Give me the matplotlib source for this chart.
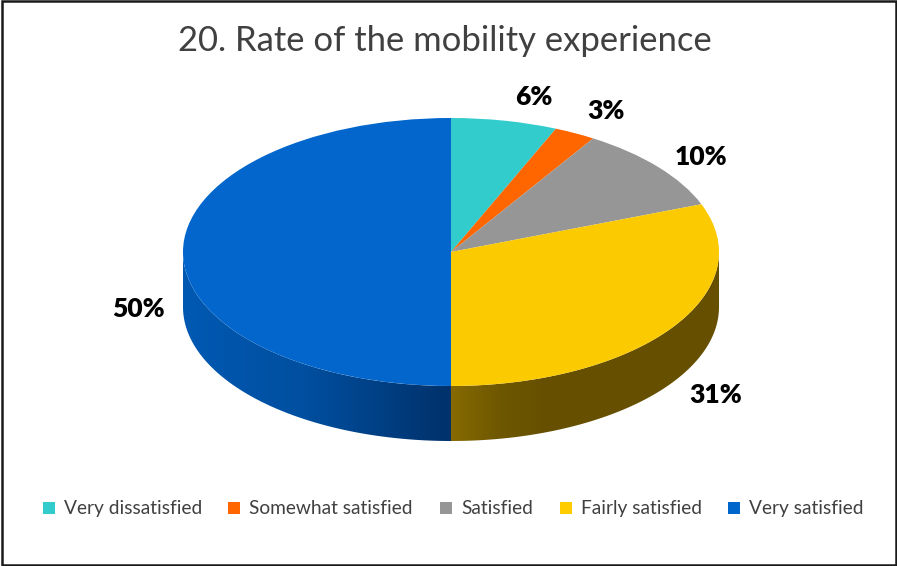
import numpy as np
import matplotlib
matplotlib.use("Agg")
from matplotlib import pyplot as plt
from matplotlib.colors import LinearSegmentedColormap
from matplotlib.patches import Polygon, Rectangle

W, H = 897, 566

categories = ["Very dissatisfied", "Somewhat satisfied", "Satisfied", "Fairly satisfied", "Very satisfied"]
values = [6.4, 2.5, 10.3, 30.8, 50.0]
value_labels = ["6%", "3%", "10%", "31%", "50%"]
colors = ["#33CCCC", "#FF6600", "#969696", "#FBCA00", "#0266CC"]
legend_colors = ["#33CCCC", "#FF6600", "#969696", "#FFCC00", "#0066CC"]
label_px = [(534, 97), (606, 111), (701, 157), (716, 395), (138, 309)]
legend_px = [43, 228, 440, 560, 728]

# pie centre and radii in pixels, the pie is flattened by the axes limits
cx, cy, rx, ry = 451, 252, 268, 134
depth = 55 / ry

plt.rcParams['font.family'] = ['Lato', 'DejaVu Sans']

fig = plt.figure(figsize=(W / 100, H / 100), dpi=100, facecolor="white")
ax = fig.add_axes([0, 0, 1, 1])

wedges, _ = ax.pie(values, colors=colors, startangle=90, counterclock=False, radius=1,
                   wedgeprops={"linewidth": 0, "zorder": 3})


def side_wall(start, end, stops):
    # start and end are angles clockwise from the top, in degrees
    # only 90 to 270 faces the viewer
    t = np.radians(np.linspace(max(start, 90), min(end, 270), 200))
    x, y = np.sin(t), np.cos(t)
    pts = np.r_[np.c_[x, y], np.c_[x[::-1], y[::-1] - depth]]
    poly = Polygon(pts, closed=True, transform=ax.transData, fc="none", ec="none")
    ax.add_patch(poly)
    cmap = LinearSegmentedColormap.from_list("wall", stops)
    img = ax.imshow(np.linspace(0, 1, 256).reshape(1, -1), cmap=cmap, aspect="auto",
                    extent=(x.min(), x.max(), -2, 2), zorder=2, interpolation="bilinear")
    img.set_clip_path(poly)


edges = np.cumsum([0] + values) * 3.6
side_wall(edges[3], edges[4], [(0, "#866A00"), (0.18, "#6E5700"), (0.36, "#665000"), (1, "#665000")])
side_wall(edges[4], edges[5], [(0, "#0059B2"), (0.45, "#004FA0"), (1, "#00316A")])

ax.set_aspect("auto")
ax.set_xlim(-cx / rx, (W - cx) / rx)
ax.set_ylim((cy - H) / ry, cy / ry)
ax.set_axis_off()

for txt, (px, py) in zip(value_labels, label_px):
    ax.text((px - cx) / rx, (cy - py) / ry, txt, ha="center", va="center",
            fontsize=19, fontweight="heavy", color="black", zorder=5)

fig.text(445 / W, 1 - 41 / H, "20. Rate of the mobility experience", ha="center", va="center",
         fontsize=24.9, color="#404040")

# legend laid out by hand so the entries land where they do in the chart
for name, col, px in zip(categories, legend_colors, legend_px):
    fig.add_artist(Rectangle((px / W, 1 - 513.5 / H), 12 / W, 12 / H, transform=fig.transFigure,
                             fc=col, ec="none"))
    fig.text((px + 21) / W, 1 - 508.5 / H, name, ha="left", va="center", fontsize=13.8, color="#404040")

# chart frame
fig.add_artist(Rectangle((1.5 / W, 1 / H), (W - 3) / W, (H - 2) / H, transform=fig.transFigure,
                         fc="none", ec="#1a1a1a", lw=1.8))

fig.savefig("out.png", dpi=100)
